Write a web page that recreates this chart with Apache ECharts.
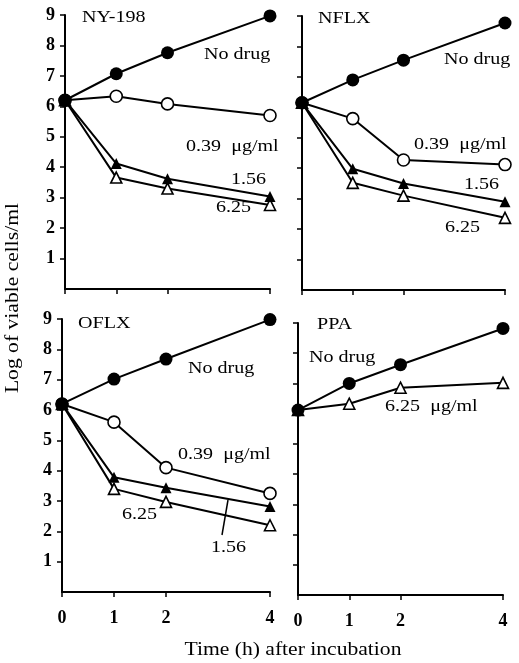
<!DOCTYPE html>
<html>
<head>
<meta charset="utf-8">
<script src="https://cdn.jsdelivr.net/npm/echarts@6/dist/echarts.min.js"></script>
<style>
html,body{margin:0;padding:0;background:#fff;}
#chart{width:519px;height:663px;}
</style>
</head>
<body>
<div id="chart"></div>
<script>
// ---- data ----
var times = [0, 1, 2, 4];
var panelNames = ['NY-198', 'NFLX', 'OFLX', 'PPA'];

// NY-198
var ny_noDrug = [6.2, 7.07, 7.76, 8.97];
var ny_039    = [6.2, 6.33, 6.08, 5.7];
var ny_156    = [6.2, 4.12, 3.62, 3.04];
var ny_625    = [6.2, 3.66, 3.3, 2.76];
// NFLX
var nf_noDrug = [6.15, 6.9, 7.55, 8.77];
var nf_039    = [6.15, 5.63, 4.27, 4.12];
var nf_156    = [6.15, 3.98, 3.5, 2.9];
var nf_625    = [6.15, 3.52, 3.1, 2.37];
// OFLX
var of_noDrug = [6.2, 7.02, 7.68, 8.98];
var of_039    = [6.2, 5.6, 4.1, 3.25];
var of_156    = [6.2, 3.78, 3.44, 2.82];
var of_625    = [6.2, 3.4, 2.97, 2.2];
// PPA
var pp_noDrug = [6.12, 7.0, 7.62, 8.82];
var pp_625    = [6.12, 6.33, 6.86, 7.02];

var yTicks = [1, 2, 3, 4, 5, 6, 7, 8, 9];
var xTicks = [0, 1, 2, 4];

// ---- chart ----
var FONT = 'Liberation Serif';
var chart = echarts.init(document.getElementById('chart'), null, {renderer: 'canvas'});

var grids = [
  {left: 65, top: 15, width: 205, height: 274},
  {left: 302, top: 16, width: 203, height: 274},
  {left: 62, top: 319, width: 208, height: 273},
  {left: 298, top: 323, width: 205, height: 272}
];

function xAxis(i, showLabel) {
  return {
    type: 'value', gridIndex: i, min: 0, max: 4, interval: 1,
    axisLine: {show: true, onZero: false, lineStyle: {color: '#000', width: 2}},
    axisTick: {show: true, inside: false, length: 5, customValues: xTicks, lineStyle: {color: '#000', width: 1.5}},
    axisLabel: {show: showLabel, customValues: xTicks, margin: 17, color: '#000', fontFamily: FONT, fontSize: 18, fontWeight: 'bold'},
    splitLine: {show: false}
  };
}
function yAxis(i, showLabel) {
  return {
    type: 'value', gridIndex: i, min: 0, max: 9, interval: 1,
    axisLine: {show: true, onZero: false, lineStyle: {color: '#000', width: 2}},
    axisTick: {show: true, inside: false, length: 5, customValues: yTicks, lineStyle: {color: '#000', width: 1.5}},
    axisLabel: {show: showLabel, customValues: yTicks, margin: 10, color: '#000', fontFamily: FONT, fontSize: 18, fontWeight: 'bold'},
    splitLine: {show: false}
  };
}

function ser(i, data, kind) {
  var filled = (kind === 'fc' || kind === 'ft');
  var sym = (kind === 'fc' || kind === 'oc') ? 'circle' : 'triangle';
  var size = kind === 'fc' ? 13 : (sym === 'circle' ? 12 : 11);
  return {
    type: 'line', xAxisIndex: i, yAxisIndex: i,
    data: times.map(function (t, k) { return [t, data[k]]; }),
    symbol: sym, symbolSize: size, showAllSymbol: true,
    lineStyle: {color: '#000', width: 2},
    itemStyle: {color: filled ? '#000' : '#fff', borderColor: '#000', borderWidth: filled ? 0 : 1.6},
    emphasis: {disabled: true},
    animation: false, z: 2
  };
}

var series = [
  ser(0, ny_625, 'ot'), ser(0, ny_156, 'ft'), ser(0, ny_039, 'oc'), ser(0, ny_noDrug, 'fc'),
  ser(1, nf_625, 'ot'), ser(1, nf_156, 'ft'), ser(1, nf_039, 'oc'), ser(1, nf_noDrug, 'fc'),
  ser(2, of_625, 'ot'), ser(2, of_156, 'ft'), ser(2, of_039, 'oc'), ser(2, of_noDrug, 'fc'),
  ser(3, pp_625, 'ot'), ser(3, pp_noDrug, 'fc')
];

function txt(x, y, s, opts) {
  opts = opts || {};
  return {
    type: 'text', x: x, y: y, scaleX: opts.sx || 1.18, rotation: opts.rot || 0,
    style: {text: s, fill: '#000', font: (opts.size || 17) + 'px "' + FONT + '"',
      textAlign: opts.align || 'left', textVerticalAlign: 'middle'},
    z: 10
  };
}

var mu = '\u03bc';
var graphics = [
  txt(82, 18, panelNames[0]), txt(318, 19, panelNames[1]), txt(78, 324, panelNames[2]), txt(317, 325, panelNames[3]),
  // NY-198
  txt(204, 55, 'No drug'), txt(186, 147, '0.39  ' + mu + 'g/ml'), txt(231, 180, '1.56'), txt(216, 208, '6.25'),
  // NFLX
  txt(444, 60, 'No drug'), txt(414, 145, '0.39  ' + mu + 'g/ml'), txt(464, 185, '1.56'), txt(445, 228, '6.25'),
  // OFLX
  txt(188, 369, 'No drug'), txt(178, 455, '0.39  ' + mu + 'g/ml'), txt(122, 515, '6.25'), txt(211, 548, '1.56'),
  // PPA
  txt(309, 358, 'No drug'), txt(385, 407, '6.25  ' + mu + 'g/ml'),
  // axis titles
  txt(293, 650, 'Time (h) after incubation', {align: 'center', size: 18, sx: 1.2}),
  txt(13, 298, 'Log of viable cells/ml', {align: 'center', size: 18, sx: 1.2, rot: Math.PI / 2}),
  // leader line for 1.56 in OFLX
  {type: 'line', shape: {x1: 222, y1: 535, x2: 228, y2: 500}, style: {stroke: '#000', lineWidth: 1.5}, z: 10}
];

chart.setOption({
  animation: false,
  backgroundColor: '#fff',
  grid: grids,
  xAxis: [xAxis(0, false), xAxis(1, false), xAxis(2, true), xAxis(3, true)],
  yAxis: [yAxis(0, true), yAxis(1, false), yAxis(2, true), yAxis(3, false)],
  series: series,
  graphic: graphics
});
</script>
</body>
</html>
